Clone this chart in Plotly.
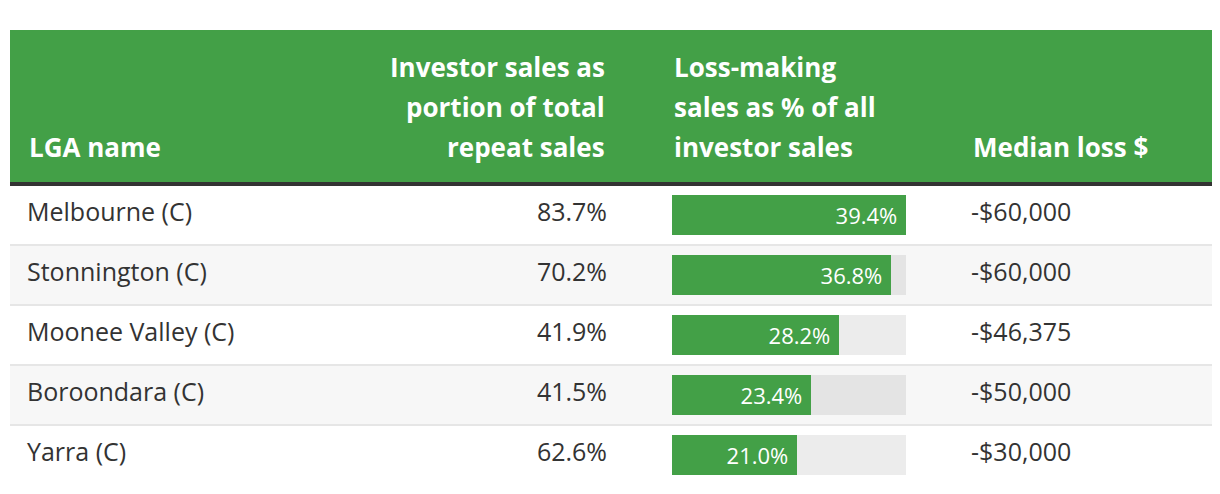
import plotly.graph_objects as go

# ---- data ----
lga_names = ["Melbourne (C)", "Stonnington (C)", "Moonee Valley (C)", "Boroondara (C)", "Yarra (C)"]
investor_share = [83.7, 70.2, 41.9, 41.5, 62.6]
loss_share = [39.4, 36.8, 28.2, 23.4, 21.0]
median_loss = [-60000, -60000, -46375, -50000, -30000]
header_lga = ["LGA name"]
header_investor = ["Investor sales as", "portion of total", "repeat sales"]
header_loss = ["Loss-making", "sales as % of all", "investor sales"]
header_median = ["Median loss $"]

# ---- style ----
W, H = 1220, 494
GREEN = "#43a047"
TEXT = "#333333"
FONT = "Open Sans, Noto Sans, sans-serif"
BODY_SIZE = 25
HEAD_SIZE = 26
ROW_H = 60.0
ROW0 = 215.0  # pixel centre of first row
TABLE_L, TABLE_R = 10, 1212
BAR_L, BAR_R = 672, 906

rows = list(range(len(lga_names)))

def py(px):  # pixel -> row units
    return (px - ROW0) / ROW_H

fig = go.Figure()

# track bars
max_loss = max(loss_share)
fig.add_trace(go.Bar(
    y=rows, x=[max_loss] * len(rows), orientation="h", xaxis="x2", yaxis="y",
    marker=dict(color="rgba(0,0,0,0.075)", line=dict(width=0)),
    width=40 / ROW_H, hoverinfo="skip", showlegend=False,
))
# value bars
fig.add_trace(go.Bar(
    y=rows, x=loss_share, orientation="h", xaxis="x2", yaxis="y",
    marker=dict(color=GREEN, line=dict(width=0)),
    width=40 / ROW_H,
    text=[f"{v:.1f}%\u00a0" for v in loss_share],
    textposition="inside", insidetextanchor="end", textangle=0,
    textfont=dict(family=FONT, size=22, color="white"),
    hoverinfo="skip", showlegend=False, cliponaxis=False,
))
# name column
fig.add_trace(go.Scatter(
    x=[27] * len(rows), y=rows, mode="text", text=lga_names,
    textposition="middle right", textfont=dict(family=FONT, size=BODY_SIZE, color=TEXT),
    hoverinfo="skip", showlegend=False,
))
# investor share column
fig.add_trace(go.Scatter(
    x=[607] * len(rows), y=rows, mode="text",
    text=[f"{v:.1f}%" for v in investor_share],
    textposition="middle left", textfont=dict(family=FONT, size=BODY_SIZE, color=TEXT),
    hoverinfo="skip", showlegend=False,
))
# median loss column
fig.add_trace(go.Scatter(
    x=[971] * len(rows), y=rows, mode="text",
    text=[f"-${abs(v):,}" for v in median_loss],
    textposition="middle right", textfont=dict(family=FONT, size=BODY_SIZE, color=TEXT),
    hoverinfo="skip", showlegend=False,
))

shapes = []
# header background and dark rule
shapes.append(dict(type="rect", xref="paper", yref="y", x0=TABLE_L / W, x1=TABLE_R / W,
                   y0=py(30), y1=py(182), fillcolor=GREEN, line=dict(width=0), layer="below"))
shapes.append(dict(type="rect", xref="paper", yref="y", x0=TABLE_L / W, x1=TABLE_R / W,
                   y0=py(182), y1=py(186), fillcolor="#333333", line=dict(width=0), layer="below"))
for i in rows:
    top = i - 0.5 + 1 / ROW_H
    bot = i + 0.5 - 1 / ROW_H
    if i % 2 == 1:
        shapes.append(dict(type="rect", xref="paper", yref="y", x0=TABLE_L / W, x1=TABLE_R / W,
                           y0=top, y1=bot, fillcolor="#f7f7f7", line=dict(width=0), layer="below"))
    if i < len(rows) - 1:
        shapes.append(dict(type="rect", xref="paper", yref="y", x0=TABLE_L / W, x1=TABLE_R / W,
                           y0=bot, y1=bot + 2 / ROW_H, fillcolor="#e6e6e6", line=dict(width=0), layer="below"))

annotations = []
hfont = dict(family=FONT, size=HEAD_SIZE, color="white")
line_y = [67, 107, 147]

def add_header(lines, x, anchor):
    offset = len(line_y) - len(lines)
    for k, t in enumerate(lines):
        annotations.append(dict(text=f"<b>{t}</b>", x=x, y=py(line_y[offset + k]), xref="x", yref="y",
                                xanchor=anchor, yanchor="middle", showarrow=False, font=hfont))

add_header(header_lga, 27, "left")
add_header(header_investor, 607, "right")
add_header(header_loss, 672, "left")
add_header(header_median, 971, "left")

fig.update_layout(
    width=W, height=H, margin=dict(l=0, r=0, t=0, b=0),
    paper_bgcolor="white", plot_bgcolor="rgba(0,0,0,0)",
    barmode="overlay", bargap=0,
    xaxis=dict(range=[0, W], domain=[0, 1], visible=False, fixedrange=True),
    xaxis2=dict(range=[0, max_loss], domain=[BAR_L / W, BAR_R / W], anchor="y",
                visible=False, fixedrange=True),
    yaxis=dict(range=[py(H), py(0)], domain=[0, 1], visible=False, fixedrange=True),
    shapes=shapes, annotations=annotations, showlegend=False,
)

fig.write_html("out.html", config={"displayModeBar": False},
               post_script="document.body.style.margin='0';")
